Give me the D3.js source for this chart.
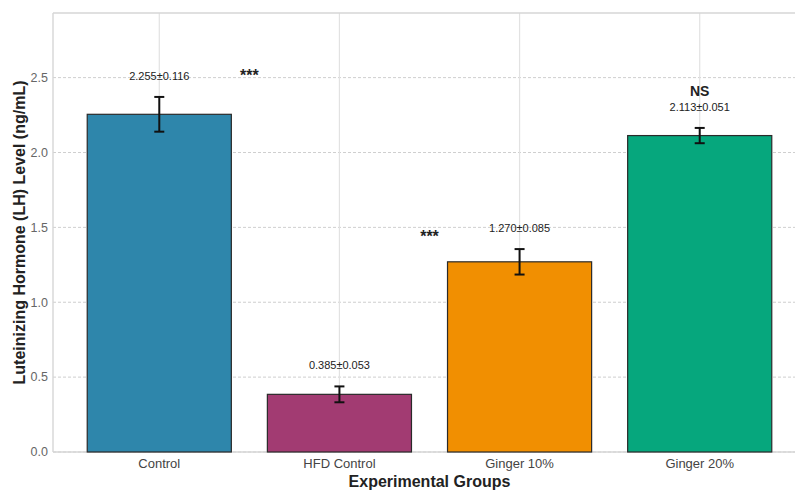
<!DOCTYPE html>
<html>
<head>
<meta charset="utf-8">
<script src="https://cdn.jsdelivr.net/npm/d3@7"></script>
<style>
  body { margin: 0; background: #fff; }
  svg { display: block; font-family: "Liberation Sans", Arial, sans-serif; }
</style>
</head>
<body>
<svg id="chart" width="795" height="490"></svg>
<script>
// LH levels by experimental group (mean ± SEM, ng/mL)
const groups = ["Control", "HFD Control", "Ginger 10%", "Ginger 20%"];
const means = [2.255, 0.385, 1.270, 2.113];
const sems = [0.116, 0.053, 0.085, 0.051];
const colors = ["#2E86AB", "#A23B72", "#F18F01", "#06A77D"];
const yTicks = [0.0, 0.5, 1.0, 1.5, 2.0, 2.5];

// significance marks: position on the category axis and height in data units
const sigText = ["***", "***", "NS"];
const sigPos = [0.5, 1.5, 3];
const sigY = [2.48, 1.40, 2.38];

const svg = d3.select("#chart");
const plot = { left: 53, right: 806, top: 13, bottom: 452 };

const yMax = 2.255 * 1.3;
const y = d3.scaleLinear().domain([0, yMax]).range([plot.bottom, plot.top]);
// categorical positions as matplotlib-style indices with margins
const x = d3.scaleLinear().domain([-0.59, 3.59]).range([plot.left, plot.right]);
const barW = x(0.8) - x(0);

const g = svg.append("g");

// horizontal dashed grid
g.selectAll("line.hgrid").data(yTicks).join("line")
  .attr("class", "hgrid")
  .attr("x1", plot.left).attr("x2", plot.right)
  .attr("y1", d => y(d)).attr("y2", d => y(d))
  .attr("stroke", "#cfcfcf").attr("stroke-width", 1)
  .attr("stroke-dasharray", "3,2");

// vertical grid at category centres
g.selectAll("line.vgrid").data(groups).join("line")
  .attr("class", "vgrid")
  .attr("x1", (d, i) => x(i)).attr("x2", (d, i) => x(i))
  .attr("y1", plot.top).attr("y2", plot.bottom)
  .attr("stroke", "#e2e2e2").attr("stroke-width", 1.2);

// spines
g.append("line").attr("x1", plot.left).attr("x2", plot.right)
  .attr("y1", plot.top).attr("y2", plot.top).attr("stroke", "#d6d6d6").attr("stroke-width", 1.4);
g.append("line").attr("x1", plot.left).attr("x2", plot.right)
  .attr("y1", plot.bottom).attr("y2", plot.bottom).attr("stroke", "#d6d6d6").attr("stroke-width", 1.4);
g.append("line").attr("x1", plot.left).attr("x2", plot.left)
  .attr("y1", plot.top).attr("y2", plot.bottom).attr("stroke", "#d6d6d6").attr("stroke-width", 1.4);

// bars
g.selectAll("rect.bar").data(means).join("rect")
  .attr("class", "bar")
  .attr("x", (d, i) => x(i - 0.4))
  .attr("width", barW)
  .attr("y", d => y(d))
  .attr("height", d => y(0) - y(d))
  .attr("fill", (d, i) => colors[i])
  .attr("stroke", "#2a2a2a").attr("stroke-width", 1.2);

// error bars
const eb = g.selectAll("g.err").data(means).join("g").attr("class", "err");
eb.append("line")
  .attr("x1", (d, i) => x(i)).attr("x2", (d, i) => x(i))
  .attr("y1", (d, i) => y(d - sems[i])).attr("y2", (d, i) => y(d + sems[i]))
  .attr("stroke", "#111").attr("stroke-width", 2);
[-1, 1].forEach(s => {
  eb.append("line")
    .attr("x1", (d, i) => x(i) - 5).attr("x2", (d, i) => x(i) + 5)
    .attr("y1", (d, i) => y(d + s * sems[i])).attr("y2", (d, i) => y(d + s * sems[i]))
    .attr("stroke", "#111").attr("stroke-width", 2);
});

// value labels
g.selectAll("text.val").data(means).join("text")
  .attr("class", "val")
  .attr("x", (d, i) => x(i))
  .attr("y", (d, i) => y(d + sems[i] + 0.1) - 2)
  .attr("text-anchor", "middle")
  .attr("font-size", 11).attr("fill", "#222")
  .text((d, i) => `${d.toFixed(3)}±${sems[i].toFixed(3)}`);

// significance marks
g.selectAll("text.sig").data(sigText).join("text")
  .attr("class", "sig")
  .attr("x", (d, i) => x(sigPos[i]))
  .attr("y", (d, i) => y(sigY[i]))
  .attr("text-anchor", "middle")
  .attr("font-size", (d) => d === "NS" ? 14 : 16)
  .attr("font-weight", "bold").attr("fill", "#222")
  .text(d => d);

// y tick labels
g.selectAll("text.ytick").data(yTicks).join("text")
  .attr("class", "ytick")
  .attr("x", plot.left - 5)
  .attr("y", d => y(d))
  .attr("dy", "0.35em")
  .attr("text-anchor", "end")
  .attr("font-size", 12.5).attr("fill", "#666")
  .text(d => d.toFixed(1));

// x tick labels
g.selectAll("text.xtick").data(groups).join("text")
  .attr("class", "xtick")
  .attr("x", (d, i) => x(i))
  .attr("y", plot.bottom + 16)
  .attr("text-anchor", "middle")
  .attr("font-size", 13).attr("fill", "#444")
  .text(d => d);

// axis titles
svg.append("text")
  .attr("x", (plot.left + plot.right) / 2)
  .attr("y", 487)
  .attr("text-anchor", "middle")
  .attr("font-size", 16).attr("font-weight", "bold").attr("fill", "#222")
  .text("Experimental Groups");

svg.append("text")
  .attr("transform", `translate(25,${(plot.top + plot.bottom) / 2}) rotate(-90)`)
  .attr("text-anchor", "middle")
  .attr("font-size", 16).attr("font-weight", "bold").attr("fill", "#222")
  .text("Luteinizing Hormone (LH) Level (ng/mL)");
</script>
</body>
</html>
